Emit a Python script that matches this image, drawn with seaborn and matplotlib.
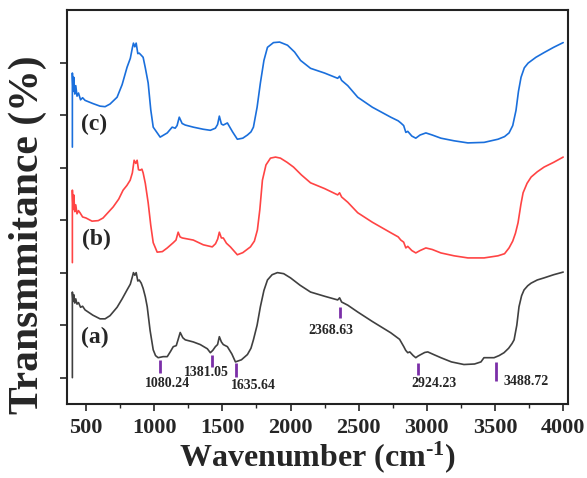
import matplotlib
matplotlib.use('Agg')
import matplotlib.pyplot as plt
from matplotlib.ticker import MultipleLocator
import seaborn as sns

# FTIR spectra (arbitrary transmittance units, ticks every 10)
wn_a = [400, 400, 405, 410, 418, 425, 434, 445, 460, 475, 493, 550, 603, 640, 676, 728, 765, 801,
        825, 840, 848, 858, 868, 880, 890, 905, 919, 935, 949, 970, 993, 1010, 1029, 1066,
        1096, 1120, 1140, 1162, 1175, 1191, 1210, 1228, 1287, 1338, 1390, 1412, 1430, 1449,
        1465, 1478, 1493, 1507, 1537, 1570, 1596, 1640, 1684, 1710, 1728, 1755, 1779, 1805,
        1831, 1865, 1904, 1950, 2000, 2070, 2147, 2250, 2346, 2360, 2375, 2420, 2493, 2600,
        2735, 2800, 2831, 2845, 2860, 2875, 2900, 2919, 2935, 2956, 2985, 3007, 3050, 3103,
        3180, 3272, 3350, 3397, 3419, 3493, 3530, 3566, 3600, 3625, 3640, 3660, 3676, 3695,
        3713, 3740, 3765, 3810, 3860, 3930, 4000]
tr_a = [0.0, 16.3, 14.5, 15.8, 14.2, 15.0, 14.0, 14.3, 13.4, 13.6, 12.9, 11.9, 11.2, 11.2, 11.8,
        13.4, 15.0, 16.7, 17.8, 19.2, 20.0, 19.5, 20.0, 18.4, 18.6, 18.0, 17.0, 15.4, 13.5,
        9.0, 5.3, 4.2, 3.8, 4.0, 4.0, 5.0, 5.9, 6.1, 7.2, 8.6, 7.6, 7.2, 6.8, 6.3, 5.5, 4.75,
        5.2, 5.9, 6.3, 7.8, 6.8, 6.3, 5.9, 4.5, 3.0, 3.4, 4.4, 5.6, 7.2, 10.0, 13.5, 16.6,
        18.6, 19.6, 20.0, 19.8, 19.0, 17.6, 16.3, 15.5, 14.8, 15.2, 14.4, 13.8, 12.5, 10.7,
        8.55, 7.3, 5.9, 5.2, 4.75, 4.9, 4.2, 3.8, 4.1, 4.4, 4.8, 4.9, 4.4, 3.8, 3.0, 2.5, 2.6,
        3.0, 3.8, 3.8, 4.2, 4.75, 5.6, 6.5, 7.2, 10.0, 13.5, 15.6, 16.7, 17.5, 18.0, 18.6,
        19.0, 19.6, 20.1]

wn_b = [400, 400, 405, 410, 418, 425, 434, 445, 456, 475, 500, 544, 590, 625, 699, 740, 772, 800,
        824, 840, 853, 865, 875, 885, 897, 910, 919, 935, 956, 975, 993, 1022, 1060, 1096,
        1140, 1160, 1176, 1190, 1206, 1287, 1360, 1426, 1450, 1466, 1478, 1493, 1507, 1530,
        1559, 1610, 1650, 1706, 1735, 1757, 1775, 1794, 1820, 1853, 1890, 1926, 1975, 2022,
        2080, 2147, 2250, 2346, 2360, 2375, 2420, 2493, 2600, 2735, 2790, 2809, 2830, 2846,
        2860, 2890, 2919, 2950, 2993, 3040, 3103, 3200, 3301, 3420, 3522, 3570, 3603, 3630,
        3650, 3669, 3690, 3706, 3735, 3765, 3810, 3860, 3930, 4000]
tr_b = [21.9, 35.7, 32.0, 34.8, 31.6, 32.9, 31.2, 31.8, 31.4, 30.6, 30.4, 29.8, 29.9, 30.4, 32.5,
        34.0, 35.7, 36.6, 37.6, 39.0, 41.4, 40.8, 41.4, 39.6, 39.5, 39.7, 39.0, 37.0, 33.3,
        29.0, 25.7, 23.9, 24.0, 24.7, 25.7, 26.2, 27.7, 26.8, 26.6, 26.2, 25.3, 24.9, 25.5,
        26.4, 27.7, 26.6, 26.6, 25.6, 24.9, 23.4, 23.8, 24.9, 26.0, 28.1, 32.0, 37.6, 40.5,
        41.8, 42.0, 41.8, 41.0, 40.1, 38.6, 37.1, 36.0, 34.8, 35.2, 34.4, 33.4, 31.4, 29.6,
        27.6, 26.8, 26.2, 25.8, 24.7, 25.0, 24.2, 23.75, 24.2, 24.7, 24.4, 23.75, 23.2, 22.8,
        22.8, 23.2, 23.6, 24.7, 26.0, 27.5, 29.5, 33.0, 35.2, 37.0, 38.2, 39.2, 40.1, 41.0,
        42.0]

wn_c = [400, 400, 405, 410, 418, 425, 434, 445, 460, 475, 493, 550, 603, 640, 676, 728, 765, 801,
        825, 840, 848, 858, 868, 880, 890, 905, 919, 935, 956, 975, 993, 1044, 1096, 1132,
        1154, 1168, 1184, 1205, 1228, 1287, 1360, 1412, 1449, 1465, 1478, 1493, 1507, 1537,
        1575, 1610, 1650, 1684, 1710, 1728, 1755, 1779, 1805, 1831, 1875, 1920, 1978, 2030,
        2074, 2147, 2250, 2346, 2360, 2375, 2420, 2493, 2600, 2735, 2790, 2809, 2830, 2846,
        2860, 2890, 2919, 2950, 2993, 3040, 3103, 3200, 3301, 3420, 3522, 3570, 3603, 3630,
        3654, 3672, 3691, 3715, 3743, 3800, 3860, 3930, 4000]
tr_c = [43.9, 58.0, 54.5, 57.2, 54.0, 55.6, 53.6, 54.2, 52.9, 53.3, 52.8, 52.2, 51.7, 51.6, 52.1,
        53.4, 55.8, 59.1, 60.8, 62.8, 63.7, 63.0, 63.7, 61.7, 61.8, 61.4, 61.0, 59.0, 56.1,
        51.0, 47.7, 45.8, 46.6, 47.7, 47.5, 48.0, 49.6, 48.4, 48.1, 47.7, 47.3, 47.1, 47.5,
        48.2, 49.8, 48.3, 48.1, 48.5, 46.8, 45.4, 45.6, 46.2, 46.8, 47.7, 51.5, 56.1, 60.4,
        62.9, 63.8, 63.9, 63.3, 62.0, 60.4, 58.9, 58.0, 57.0, 57.4, 56.6, 55.6, 53.4, 51.5,
        49.6, 48.9, 48.5, 48.0, 46.7, 46.9, 46.0, 45.6, 46.2, 46.6, 46.2, 45.6, 45.1, 44.7,
        44.8, 45.4, 45.9, 46.6, 48.0, 50.9, 54.5, 57.2, 59.0, 59.9, 61.0, 61.9, 62.9, 63.8]

# peak annotations on curve (a)
peak_labels = ['1080.24', '1381.05', '1635.64', '2368.63', '2924.23', '3488.72']
peak_x = [1044, 1426, 1603, 2360, 2934, 3507]
peak_top = [3.4, 4.4, 2.85, 13.5, 2.85, 3.0]
peak_bot = [0.95, 2.1, 0.2, 11.4, 0.57, -0.57]
label_x = [1096, 1382, 1728, 2294, 3051, 3728]
label_y = [-1.14, 0.95, -1.5, 8.9, -1.14, -0.76]

sns.set_style('white')
plt.rcParams['font.family'] = ['Liberation Serif', 'DejaVu Serif']
plt.rcParams['font.weight'] = 'bold'
plt.rcParams['mathtext.fontset'] = 'custom'
plt.rcParams['mathtext.rm'] = 'Liberation Serif:bold'
plt.rcParams['mathtext.default'] = 'rm'

fig = plt.figure(figsize=(5.87, 4.78), dpi=100)
ax = fig.add_axes([0.114, 0.155, 0.854, 0.824])

sns.lineplot(x=wn_a, y=tr_a, color='#404040', lw=1.2, sort=False, estimator=None, ax=ax)
sns.lineplot(x=wn_b, y=tr_b, color='#ff4444', lw=1.2, sort=False, estimator=None, ax=ax)
sns.lineplot(x=wn_c, y=tr_c, color='#1a6fdc', lw=1.2, sort=False, estimator=None, ax=ax)

ax.vlines(peak_x, peak_bot, peak_top, color='#7b2fa8', lw=2)
for lab, lx, ly in zip(peak_labels, label_x, label_y):
    ax.text(lx, ly, lab, fontsize=10, fontweight='bold', ha='center', va='center')

ax.text(566, 7.6, '(a)', fontsize=17, fontweight='bold', ha='center', va='center')
ax.text(574, 26.4, '(b)', fontsize=17, fontweight='bold', ha='center', va='center')
ax.text(559, 48.3, '(c)', fontsize=17, fontweight='bold', ha='center', va='center')

ax.set_xlim(360, 4037)
ax.set_ylim(-5, 70)
ax.xaxis.set_major_locator(MultipleLocator(500))
ax.xaxis.set_minor_locator(MultipleLocator(250))
ax.set_yticks(range(0, 61, 10))
ax.set_yticklabels([])
ax.tick_params(axis='x', which='major', direction='out', length=5, width=1.2,
               labelsize=16, bottom=True, pad=5)
ax.tick_params(axis='x', which='minor', direction='out', length=3, width=1.0, bottom=True)
ax.tick_params(axis='y', direction='out', length=5, width=1.2, left=True)
for lbl in ax.get_xticklabels():
    lbl.set_fontweight('bold')
for sp in ax.spines.values():
    sp.set_linewidth(1.5)
    sp.set_color('#222222')

ax.set_xlabel('Wavenumber (cm$^{\\text{-}1}$)', fontsize=23, fontweight='bold', labelpad=1)
ax.set_ylabel('Transmmitance (%)', fontsize=30, fontweight='bold')
ax.yaxis.set_label_coords(-0.04, 0.43)

fig.savefig('out.png', dpi=100)
